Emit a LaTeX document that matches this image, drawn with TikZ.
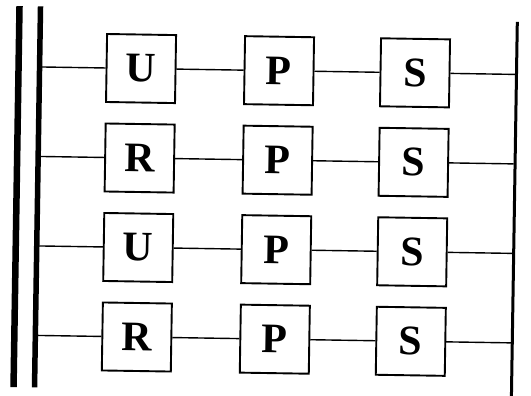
\documentclass[tikz,border=0pt]{standalone}
\usepackage{fontspec}
\setmainfont{Liberation Serif}
\begin{document}
\begin{tikzpicture}[x=1pt,y=-1pt,
  blk/.style={draw, line width=1.9pt, minimum width=69pt, minimum height=68pt, inner sep=0pt,
    font=\fontsize{42}{42}\selectfont\bfseries},
  wire/.style={line width=1.4pt},
  bar/.style={line width=#1}]
\useasboundingbox[fill=white] (0,0) rectangle (531,396);
\begin{scope}[rotate around={-0.9:(265,200)}, transform shape]
  % bars
  \coordinate (o1) at (16.5,10);  \coordinate (o2) at (16.5,391);
  \coordinate (i1) at (37.5,10);  \coordinate (i2) at (37.5,391);
  \coordinate (r1) at (514.5,18); \coordinate (r2) at (514.5,404);
  \draw[bar=6.5pt] (o1) -- (o2);
  \draw[bar=5.5pt] (i1) -- (i2);
  \draw[bar=3pt] (r1) -- (r2);
  % rows
  \foreach \r/\y/\a in {1/70.5/U, 2/160/R, 3/249.5/U, 4/339/R}{
    \coordinate (L\r) at (40,\y);
    \coordinate (E\r) at (513,\y);
    \node[blk] (A\r) at (139,\y) {\a};
    \node[blk] (P\r) at (277,\y) {P};
    \node[blk] (S\r) at (413,\y) {S};
    \draw[wire] (L\r) -- (A\r);
    \draw[wire] (A\r) -- (P\r);
    \draw[wire] (P\r) -- (S\r);
    \draw[wire] (S\r) -- (E\r);
  }
\end{scope}
\end{tikzpicture}
\end{document}
